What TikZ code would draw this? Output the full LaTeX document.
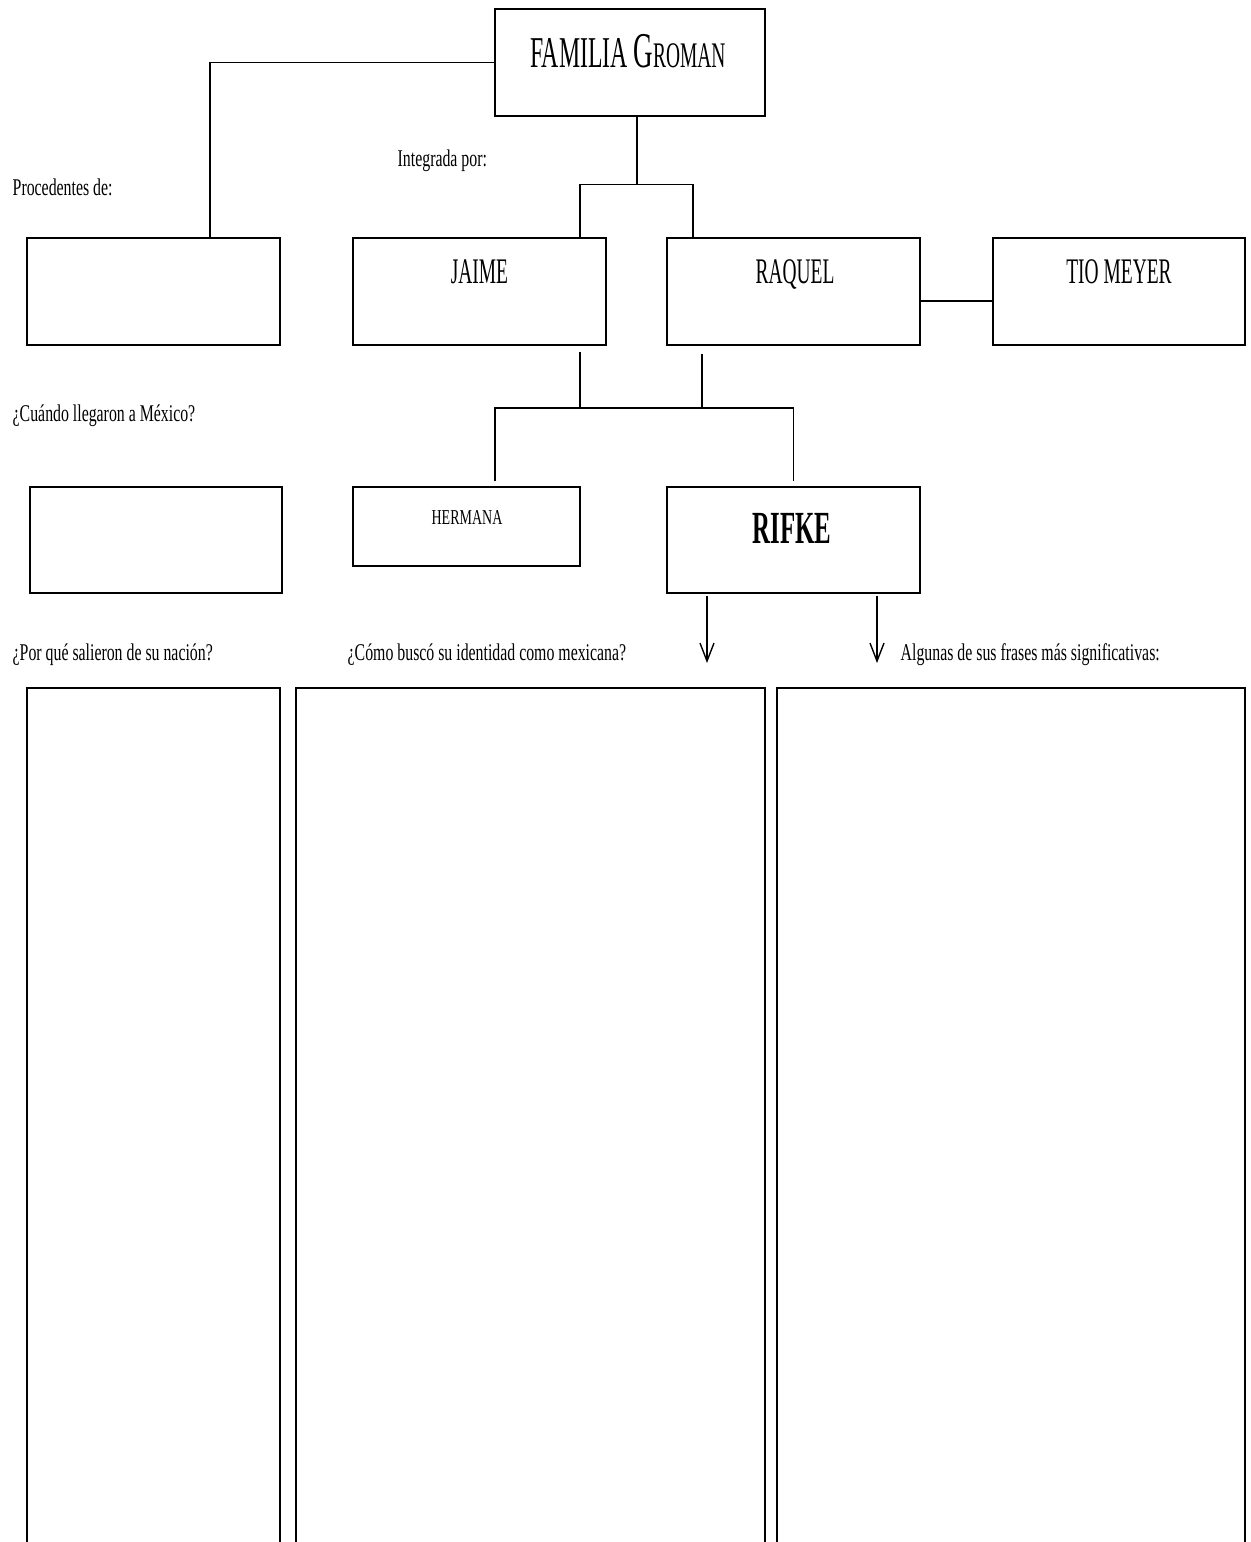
\documentclass[tikz,border=0pt]{standalone}
\usepackage{fontspec}
\setmainfont{Liberation Serif}[FakeStretch=0.66]
\newfontfamily\namefont{Liberation Serif}[FakeStretch=0.54]
\usetikzlibrary{arrows.meta}

\begin{document}
\begin{tikzpicture}[x=0.5pt, y=-0.5pt, line width=0.7pt,
  box/.style={draw, inner sep=0, minimum width=126.5pt, minimum height=53.5pt},
  lbl/.style={inner sep=0, anchor=base west, font=\fontsize{12}{14}\selectfont},
  person/.style={inner sep=0, anchor=base, font=\namefont\fontsize{18}{20}\selectfont},
  arr/.style={-{Straight Barb[length=9pt, width=7pt]}}]
  \useasboundingbox (0,0) rectangle (1250,1542);

  % Family title
  \node[box, minimum width=135pt] (fam) at (630, 62.5) {};
  \node[person, font=\namefont\fontsize{22}{24}\selectfont] (famtxt) at (628, 67)
    {FAMILIA {\fontsize{25}{27}\selectfont G}{\fontsize{18}{20}\selectfont ROMAN}};

  % Questions (left column and below)
  \node[lbl] (procq) at (12, 195) {Procedentes de:};
  \node[lbl] (integq) at (397, 166) {Integrada por:};
  \node[lbl] (llegq) at (12, 421) {¿Cuándo llegaron a México?};
  \node[lbl] (salq) at (12, 660) {¿Por qué salieron de su nación?};
  \node[lbl] (identq) at (347, 660) {¿Cómo buscó su identidad como mexicana?};
  \node[lbl] (frasq) at (900, 660) {Algunas de sus frases más significativas:};

  % Answer boxes on the left
  \node[box] (orig) at (153.5, 291.5) {};
  \node[box, minimum width=126pt, minimum height=53pt] (fecha) at (156, 540) {};

  % Parents
  \node[box] (jaime) at (479.5, 291.5) {};
  \node[person] (jaimetxt) at (479.5, 283) {JAIME};
  \node[box] (raquel) at (793.5, 291.5) {};
  \node[person] (raqueltxt) at (795, 283) {RAQUEL};
  \node[box, minimum width=126pt] (meyer) at (1119, 291.5) {};
  \node[person] (meyertxt) at (1119, 283) {TIO MEYER};

  % Children
  \node[box, minimum width=113.5pt, minimum height=39.5pt] (hermana) at (466.5, 526.5) {};
  \node[person, font=\fontsize{10.6}{12}\selectfont] (hermanatxt) at (467, 524) {HERMANA};
  \node[box, minimum height=53pt] (rifke) at (793.5, 540) {};
  \node[person, font=\namefont\bfseries\fontsize{23}{25}\selectfont] (rifketxt) at (792, 543) {RIFKE};

  % Junction points
  \coordinate (j1) at (637, 185);
  \coordinate (j2) at (580, 408);
  \coordinate (j3) at (702, 408);
  \coordinate (a1) at (707, 663);
  \coordinate (a2) at (877, 663);

  % Connectors
  \draw (fam.west) -| ([xshift=28.25pt]orig.north);
  \draw ([xshift=3.5pt]fam.south) -- (j1);
  \draw ([xshift=50.25pt]jaime.north) -- ++(0,-53) -| ([xshift=-50.25pt]raquel.north);
  \draw ([yshift=-4.75pt]raquel.east) -- ([yshift=-4.75pt]meyer.west);
  \draw ([xshift=50.25pt, yshift=-3pt]jaime.south) -- (j2);
  \draw ([xshift=-45.75pt, yshift=-4pt]raquel.south) -- (j3);
  \draw ([xshift=14.25pt, yshift=2.5pt]hermana.north) |- (j2) -- (j3) -| ([yshift=2.5pt]rifke.north);
  \draw[arr] ([xshift=-43.25pt, yshift=-1pt]rifke.south) -- (a1);
  \draw[arr] ([xshift=41.75pt, yshift=-1pt]rifke.south) -- (a2);

  % Open answer columns
  \draw (27, 1545) |- (280, 688) -- (280, 1545);
  \draw (296, 1545) |- (765, 688) -- (765, 1545);
  \draw (777, 1545) |- (1245, 688) -- (1245, 1545);
\end{tikzpicture}
\end{document}
